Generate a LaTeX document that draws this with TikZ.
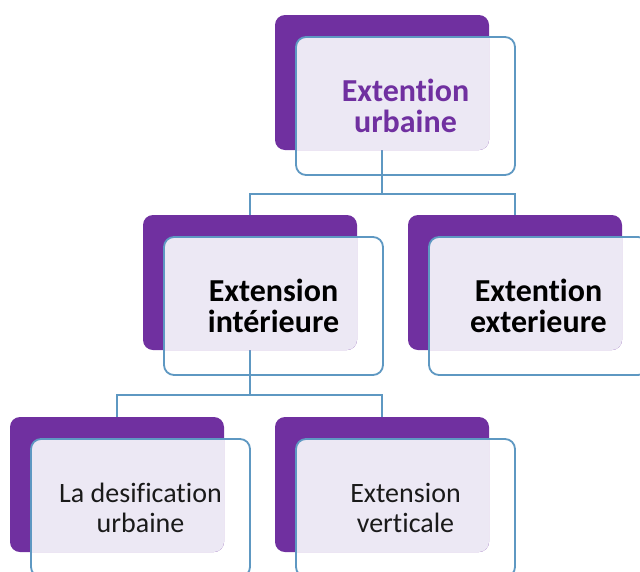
\documentclass[tikz,border=0pt]{standalone}
\usepackage{fontspec}
\setmainfont{Carlito}[Ligatures=NoCommon]
\definecolor{pback}{HTML}{7030A0}
\definecolor{lav}{HTML}{ECE8F4}
\definecolor{bordc}{HTML}{5E98C2}
\definecolor{txtdark}{HTML}{1A1A1A}
\pgfdeclarelayer{bg}
\pgfsetlayers{bg,main}
\newcommand\unitbox[5]{%
  \node[backbox, anchor=north west] (#1-b) at (#2,#3) {};
  \begin{scope}
    \clip[rounded corners=10pt] (#2,#3) rectangle ++(214,135);
    \fill[lav, rounded corners=10pt] (#2+21,#3+22) rectangle ++(219,138);
  \end{scope}
  \node[frontbox, anchor=north west, #4] (#1) at (#2+21,#3+22) {#5};
}
\begin{document}
\begin{tikzpicture}[x=1pt,y=-1pt,
  backbox/.style={fill=pback, rounded corners=10pt, minimum width=214pt, minimum height=135pt, inner sep=0pt, outer sep=0pt},
  frontbox/.style={draw=bordc, line width=1.8pt, rounded corners=10pt, minimum width=219pt, minimum height=138pt, inner sep=0pt, outer sep=0pt, align=center},
  boldtxt/.style={font=\fontsize{32}{31}\selectfont\bfseries, text=black},
  toptxt/.style={font=\fontsize{32}{31}\selectfont\bfseries, text=pback},
  regtxt/.style={font=\fontsize{28}{30}\selectfont, text=txtdark},
  conn/.style={draw=bordc, line width=2pt}]
\useasboundingbox (0,0) rectangle (640,571);
\unitbox{top}{275}{15}{toptxt}{Extention\\urbaine}
\unitbox{mid1}{143}{215}{boldtxt}{Extension\\intérieure}
\unitbox{mid2}{408}{215}{boldtxt}{Extention\\exterieure}
\unitbox{bot1}{10}{417}{regtxt}{La desification\\urbaine}
\unitbox{bot2}{275}{417}{regtxt}{Extension\\verticale}
\coordinate (j1) at (382,194);
\coordinate (j2) at (250,395);
\begin{pgfonlayer}{bg}
\fill[white] (0,0) rectangle (640,571);
\draw[conn] (top-b.south) -- (j1);
\draw[conn] (mid1-b.north) |- (j1);
\draw[conn] (j1) -| (mid2-b.north);
\draw[conn] (mid1-b.south) -- (j2);
\draw[conn] (bot1-b.north) |- (j2);
\draw[conn] (j2) -| (bot2-b.north);
\end{pgfonlayer}
\end{tikzpicture}
\end{document}
